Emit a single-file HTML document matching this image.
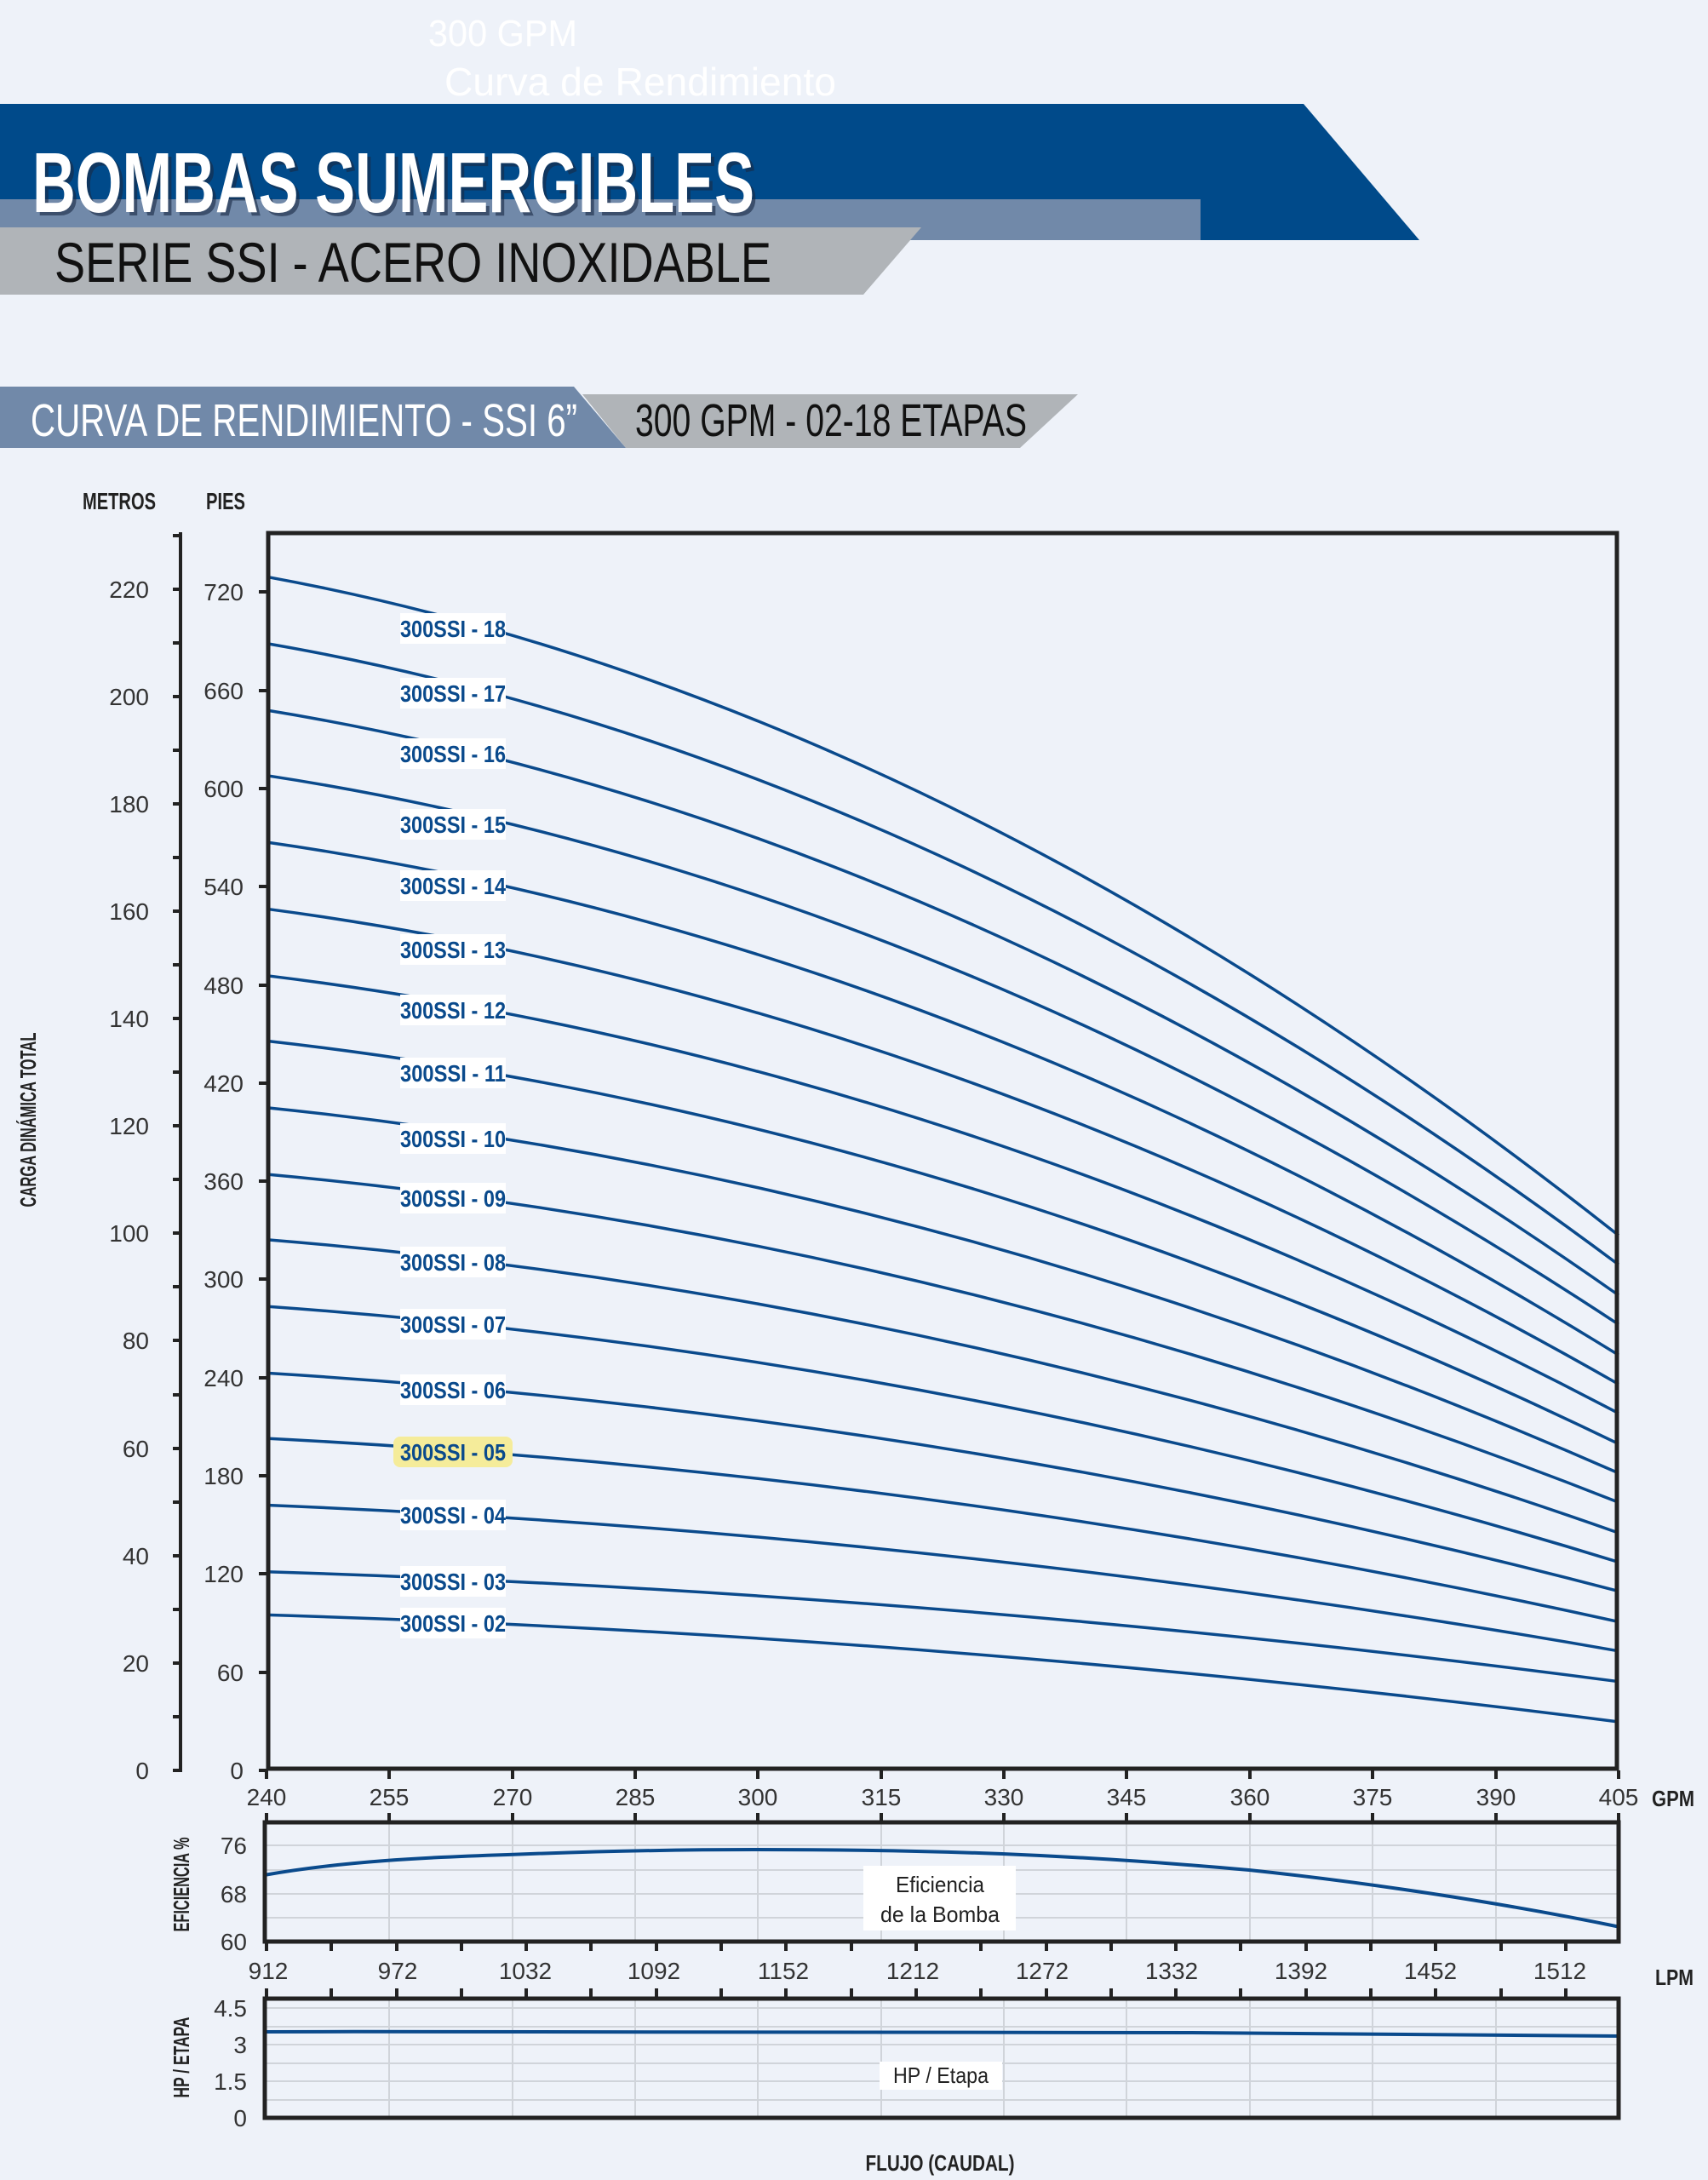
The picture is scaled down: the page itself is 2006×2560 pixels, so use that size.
<!DOCTYPE html>
<html><head><meta charset="utf-8"><style>
html,body{margin:0;padding:0;background:#eef2f9;}
svg{display:block;}
text{font-family:"Liberation Sans",sans-serif;}
</style></head><body>
<svg width="2006" height="2560" viewBox="0 0 2006 2560" xmlns="http://www.w3.org/2000/svg">
<rect width="2006" height="2560" fill="#eef2f9"/>
<!-- ghost title -->
<text x="503" y="54" font-size="44" fill="#ffffff" textLength="175" lengthAdjust="spacingAndGlyphs">300 GPM</text>
<text x="522" y="112" font-size="46" fill="#ffffff" textLength="460" lengthAdjust="spacingAndGlyphs">Curva de Rendimiento</text>
<!-- header banners -->
<polygon points="0,122 1531,122 1667,282 0,282" fill="#004a8a"/>
<rect x="0" y="234" width="1410" height="48" fill="#7189a9"/>
<polygon points="0,267 1082,267 1014,346 0,346" fill="#b0b4b8"/>
<text x="42" y="253" font-size="100" font-weight="bold" fill="#1a2a44" opacity="0.6" textLength="848" lengthAdjust="spacingAndGlyphs">BOMBAS SUMERGIBLES</text>
<text x="38" y="249" font-size="100" font-weight="bold" fill="#ffffff" textLength="848" lengthAdjust="spacingAndGlyphs">BOMBAS SUMERGIBLES</text>
<text x="64" y="331" font-size="66" fill="#111" textLength="842" lengthAdjust="spacingAndGlyphs">SERIE SSI - ACERO INOXIDABLE</text>
<!-- section bar -->
<polygon points="684,463 1266,463 1198,526 735,526" fill="#b0b4b8"/>
<polygon points="0,454 674,454 735,526 0,526" fill="#7189a9"/>
<text x="36" y="512" font-size="54" fill="#ffffff" textLength="642" lengthAdjust="spacingAndGlyphs">CURVA DE RENDIMIENTO - SSI 6”</text>
<text x="746" y="512" font-size="54" fill="#111" textLength="460" lengthAdjust="spacingAndGlyphs">300 GPM - 02-18 ETAPAS</text>
<!-- axis titles -->
<text x="97" y="598" font-size="28" font-weight="bold" fill="#222" textLength="86" lengthAdjust="spacingAndGlyphs">METROS</text>
<text x="242" y="598" font-size="28" font-weight="bold" fill="#222" textLength="46" lengthAdjust="spacingAndGlyphs">PIES</text>
<text transform="translate(42,1315) rotate(-90)" text-anchor="middle" font-size="26" font-weight="bold" fill="#222" textLength="205" lengthAdjust="spacingAndGlyphs">CARGA DINÁMICA TOTAL</text>
<!-- metros axis -->
<line x1="212" y1="625" x2="212" y2="2081" stroke="#222" stroke-width="4"/>
<g stroke="#222" stroke-width="4">
<line x1="203" y1="2079" x2="212" y2="2079"/><line x1="203" y1="2016" x2="212" y2="2016"/><line x1="203" y1="1953" x2="212" y2="1953"/><line x1="203" y1="1890" x2="212" y2="1890"/><line x1="203" y1="1827" x2="212" y2="1827"/><line x1="203" y1="1764" x2="212" y2="1764"/><line x1="203" y1="1701" x2="212" y2="1701"/><line x1="203" y1="1638" x2="212" y2="1638"/><line x1="203" y1="1574" x2="212" y2="1574"/><line x1="203" y1="1511" x2="212" y2="1511"/><line x1="203" y1="1448" x2="212" y2="1448"/><line x1="203" y1="1385" x2="212" y2="1385"/><line x1="203" y1="1322" x2="212" y2="1322"/><line x1="203" y1="1259" x2="212" y2="1259"/><line x1="203" y1="1196" x2="212" y2="1196"/><line x1="203" y1="1133" x2="212" y2="1133"/><line x1="203" y1="1070" x2="212" y2="1070"/><line x1="203" y1="1007" x2="212" y2="1007"/><line x1="203" y1="944" x2="212" y2="944"/><line x1="203" y1="881" x2="212" y2="881"/><line x1="203" y1="818" x2="212" y2="818"/><line x1="203" y1="755" x2="212" y2="755"/><line x1="203" y1="692" x2="212" y2="692"/><line x1="203" y1="629" x2="212" y2="629"/>
</g>
<g font-size="28" fill="#333" text-anchor="end">
<text x="175" y="2089">0</text><text x="175" y="1963">20</text><text x="175" y="1837">40</text><text x="175" y="1711">60</text><text x="175" y="1584">80</text><text x="175" y="1458">100</text><text x="175" y="1332">120</text><text x="175" y="1206">140</text><text x="175" y="1080">160</text><text x="175" y="954">180</text><text x="175" y="828">200</text><text x="175" y="702">220</text>
</g>
<!-- pies axis labels -->
<g stroke="#222" stroke-width="4">
<line x1="304" y1="2079" x2="313" y2="2079"/><line x1="304" y1="1964" x2="313" y2="1964"/><line x1="304" y1="1848" x2="313" y2="1848"/><line x1="304" y1="1733" x2="313" y2="1733"/><line x1="304" y1="1618" x2="313" y2="1618"/><line x1="304" y1="1502" x2="313" y2="1502"/><line x1="304" y1="1387" x2="313" y2="1387"/><line x1="304" y1="1272" x2="313" y2="1272"/><line x1="304" y1="1157" x2="313" y2="1157"/><line x1="304" y1="1041" x2="313" y2="1041"/><line x1="304" y1="926" x2="313" y2="926"/><line x1="304" y1="811" x2="313" y2="811"/><line x1="304" y1="695" x2="313" y2="695"/>
</g>
<g font-size="28" fill="#333" text-anchor="end">
<text x="286" y="2089">0</text><text x="286" y="1974">60</text><text x="286" y="1858">120</text><text x="286" y="1743">180</text><text x="286" y="1628">240</text><text x="286" y="1512">300</text><text x="286" y="1397">360</text><text x="286" y="1282">420</text><text x="286" y="1167">480</text><text x="286" y="1051">540</text><text x="286" y="936">600</text><text x="286" y="821">660</text><text x="286" y="705">720</text>
</g>
<!-- curves -->
<g fill="none" stroke="#0a4a8c" stroke-width="3.5">
<path d="M313,677.3 Q1107,822.7 1901,1450.8"/>
<path d="M313,755.6 Q1107,892.7 1901,1485.1"/>
<path d="M313,834 Q1107,963.2 1901,1521"/>
<path d="M313,910.7 Q1107,1031.9 1901,1555.3"/>
<path d="M313,989 Q1107,1102.2 1901,1591.2"/>
<path d="M313,1067.3 Q1107,1172.2 1901,1625.5"/>
<path d="M313,1145.7 Q1107,1242.3 1901,1659.7"/>
<path d="M313,1222.4 Q1107,1311.4 1901,1695.6"/>
<path d="M313,1300.7 Q1107,1381.4 1901,1729.9"/>
<path d="M313,1379 Q1107,1451.4 1901,1764.2"/>
<path d="M313,1455.7 Q1107,1520.4 1901,1800.1"/>
<path d="M313,1534.1 Q1107,1590.6 1901,1834.4"/>
<path d="M313,1612.4 Q1107,1660.6 1901,1868.6"/>
<path d="M313,1689.1 Q1107,1729.6 1901,1904.5"/>
<path d="M313,1767.5 Q1107,1799.7 1901,1938.8"/>
<path d="M313,1845.8 Q1107,1870 1901,1974.7"/>
<path d="M313,1896.4 Q1107,1920 1901,2022"/>
</g>
<!-- curve labels -->
<g fill="#ffffff">
<rect x="470" y="720" width="124" height="36"/><rect x="470" y="796" width="124" height="36"/><rect x="470" y="867" width="124" height="36"/><rect x="470" y="950" width="124" height="36"/><rect x="470" y="1022" width="124" height="36"/><rect x="470" y="1097" width="124" height="36"/><rect x="470" y="1168" width="124" height="36"/><rect x="470" y="1242" width="124" height="36"/><rect x="470" y="1319" width="124" height="36"/><rect x="470" y="1389" width="124" height="36"/><rect x="470" y="1464" width="124" height="36"/><rect x="470" y="1537" width="124" height="36"/><rect x="470" y="1614" width="124" height="36"/><rect x="462" y="1687" width="140" height="36" rx="8" fill="#f5ec9a"/><rect x="470" y="1761" width="124" height="36"/><rect x="470" y="1839" width="124" height="36"/><rect x="470" y="1888" width="124" height="36"/>
</g>
<g font-size="28" font-weight="bold" fill="#0a4a8c" text-anchor="middle">
<text x="532" y="748" textLength="124" lengthAdjust="spacingAndGlyphs">300SSI - 18</text>
<text x="532" y="824" textLength="124" lengthAdjust="spacingAndGlyphs">300SSI - 17</text>
<text x="532" y="895" textLength="124" lengthAdjust="spacingAndGlyphs">300SSI - 16</text>
<text x="532" y="978" textLength="124" lengthAdjust="spacingAndGlyphs">300SSI - 15</text>
<text x="532" y="1050" textLength="124" lengthAdjust="spacingAndGlyphs">300SSI - 14</text>
<text x="532" y="1125" textLength="124" lengthAdjust="spacingAndGlyphs">300SSI - 13</text>
<text x="532" y="1196" textLength="124" lengthAdjust="spacingAndGlyphs">300SSI - 12</text>
<text x="532" y="1270" textLength="124" lengthAdjust="spacingAndGlyphs">300SSI - 11</text>
<text x="532" y="1347" textLength="124" lengthAdjust="spacingAndGlyphs">300SSI - 10</text>
<text x="532" y="1417" textLength="124" lengthAdjust="spacingAndGlyphs">300SSI - 09</text>
<text x="532" y="1492" textLength="124" lengthAdjust="spacingAndGlyphs">300SSI - 08</text>
<text x="532" y="1565" textLength="124" lengthAdjust="spacingAndGlyphs">300SSI - 07</text>
<text x="532" y="1642" textLength="124" lengthAdjust="spacingAndGlyphs">300SSI - 06</text>
<text x="532" y="1715" textLength="124" lengthAdjust="spacingAndGlyphs">300SSI - 05</text>
<text x="532" y="1789" textLength="124" lengthAdjust="spacingAndGlyphs">300SSI - 04</text>
<text x="532" y="1867" textLength="124" lengthAdjust="spacingAndGlyphs">300SSI - 03</text>
<text x="532" y="1916" textLength="124" lengthAdjust="spacingAndGlyphs">300SSI - 02</text>
</g>
<!-- main plot frame -->
<rect x="315" y="626" width="1584" height="1451" fill="none" stroke="#222" stroke-width="5"/>
<!-- GPM ticks -->
<g stroke="#222" stroke-width="4">
<line x1="313" y1="2079" x2="313" y2="2089"/><line x1="457" y1="2079" x2="457" y2="2089"/><line x1="602" y1="2079" x2="602" y2="2089"/><line x1="746" y1="2079" x2="746" y2="2089"/><line x1="890" y1="2079" x2="890" y2="2089"/><line x1="1035" y1="2079" x2="1035" y2="2089"/><line x1="1179" y1="2079" x2="1179" y2="2089"/><line x1="1323" y1="2079" x2="1323" y2="2089"/><line x1="1468" y1="2079" x2="1468" y2="2089"/><line x1="1612" y1="2079" x2="1612" y2="2089"/><line x1="1757" y1="2079" x2="1757" y2="2089"/><line x1="1901" y1="2079" x2="1901" y2="2089"/>
<line x1="313" y1="2129" x2="313" y2="2139"/><line x1="457" y1="2129" x2="457" y2="2139"/><line x1="602" y1="2129" x2="602" y2="2139"/><line x1="746" y1="2129" x2="746" y2="2139"/><line x1="890" y1="2129" x2="890" y2="2139"/><line x1="1035" y1="2129" x2="1035" y2="2139"/><line x1="1179" y1="2129" x2="1179" y2="2139"/><line x1="1323" y1="2129" x2="1323" y2="2139"/><line x1="1468" y1="2129" x2="1468" y2="2139"/><line x1="1612" y1="2129" x2="1612" y2="2139"/><line x1="1757" y1="2129" x2="1757" y2="2139"/><line x1="1901" y1="2129" x2="1901" y2="2139"/>
</g>
<g font-size="28" fill="#333" text-anchor="middle">
<text x="313" y="2120">240</text><text x="457" y="2120">255</text><text x="602" y="2120">270</text><text x="746" y="2120">285</text><text x="890" y="2120">300</text><text x="1035" y="2120">315</text><text x="1179" y="2120">330</text><text x="1323" y="2120">345</text><text x="1468" y="2120">360</text><text x="1612" y="2120">375</text><text x="1757" y="2120">390</text><text x="1901" y="2120">405</text>
</g>
<text x="1940" y="2121" font-size="26" font-weight="bold" fill="#222" textLength="50" lengthAdjust="spacingAndGlyphs">GPM</text>
<!-- efficiency plot -->
<g stroke="#d0d4da" stroke-width="2">
<line x1="310" y1="2167" x2="1903" y2="2167"/><line x1="310" y1="2196" x2="1903" y2="2196"/><line x1="310" y1="2224" x2="1903" y2="2224"/><line x1="310" y1="2252" x2="1903" y2="2252"/>
<line x1="457" y1="2139" x2="457" y2="2281"/><line x1="602" y1="2139" x2="602" y2="2281"/><line x1="746" y1="2139" x2="746" y2="2281"/><line x1="890" y1="2139" x2="890" y2="2281"/><line x1="1035" y1="2139" x2="1035" y2="2281"/><line x1="1179" y1="2139" x2="1179" y2="2281"/><line x1="1323" y1="2139" x2="1323" y2="2281"/><line x1="1468" y1="2139" x2="1468" y2="2281"/><line x1="1612" y1="2139" x2="1612" y2="2281"/><line x1="1757" y1="2139" x2="1757" y2="2281"/>
</g>
<path d="M310,2202 C400,2186 500,2181 596,2178 C700,2174 800,2172 885,2172 C1000,2172 1100,2174 1177,2177 C1300,2182 1400,2190 1467,2196 C1600,2210 1757,2233 1903,2263" fill="none" stroke="#0a4a8c" stroke-width="4"/>
<rect x="1014" y="2191" width="179" height="76" fill="#ffffff"/>
<text x="1104" y="2222" font-size="26" fill="#222" text-anchor="middle" textLength="104" lengthAdjust="spacingAndGlyphs">Eficiencia</text>
<text x="1104" y="2257" font-size="26" fill="#222" text-anchor="middle" textLength="140" lengthAdjust="spacingAndGlyphs">de la Bomba</text>
<rect x="311" y="2140" width="1590" height="140" fill="none" stroke="#222" stroke-width="5"/>
<g font-size="28" fill="#333" text-anchor="end">
<text x="290" y="2177">76</text><text x="290" y="2234">68</text><text x="290" y="2290">60</text>
</g>
<text transform="translate(222,2213) rotate(-90)" text-anchor="middle" font-size="26" font-weight="bold" fill="#222" textLength="111" lengthAdjust="spacingAndGlyphs">EFICIENCIA %</text>
<!-- LPM ticks -->
<g stroke="#222" stroke-width="4">
<line x1="313" y1="2281" x2="313" y2="2291"/><line x1="389" y1="2281" x2="389" y2="2291"/><line x1="466" y1="2281" x2="466" y2="2291"/><line x1="542" y1="2281" x2="542" y2="2291"/><line x1="618" y1="2281" x2="618" y2="2291"/><line x1="694" y1="2281" x2="694" y2="2291"/><line x1="771" y1="2281" x2="771" y2="2291"/><line x1="847" y1="2281" x2="847" y2="2291"/><line x1="923" y1="2281" x2="923" y2="2291"/><line x1="1000" y1="2281" x2="1000" y2="2291"/><line x1="1076" y1="2281" x2="1076" y2="2291"/><line x1="1152" y1="2281" x2="1152" y2="2291"/><line x1="1229" y1="2281" x2="1229" y2="2291"/><line x1="1305" y1="2281" x2="1305" y2="2291"/><line x1="1381" y1="2281" x2="1381" y2="2291"/><line x1="1457" y1="2281" x2="1457" y2="2291"/><line x1="1534" y1="2281" x2="1534" y2="2291"/><line x1="1610" y1="2281" x2="1610" y2="2291"/><line x1="1686" y1="2281" x2="1686" y2="2291"/><line x1="1763" y1="2281" x2="1763" y2="2291"/><line x1="1839" y1="2281" x2="1839" y2="2291"/>
<line x1="313" y1="2335" x2="313" y2="2345"/><line x1="389" y1="2335" x2="389" y2="2345"/><line x1="466" y1="2335" x2="466" y2="2345"/><line x1="542" y1="2335" x2="542" y2="2345"/><line x1="618" y1="2335" x2="618" y2="2345"/><line x1="694" y1="2335" x2="694" y2="2345"/><line x1="771" y1="2335" x2="771" y2="2345"/><line x1="847" y1="2335" x2="847" y2="2345"/><line x1="923" y1="2335" x2="923" y2="2345"/><line x1="1000" y1="2335" x2="1000" y2="2345"/><line x1="1076" y1="2335" x2="1076" y2="2345"/><line x1="1152" y1="2335" x2="1152" y2="2345"/><line x1="1229" y1="2335" x2="1229" y2="2345"/><line x1="1305" y1="2335" x2="1305" y2="2345"/><line x1="1381" y1="2335" x2="1381" y2="2345"/><line x1="1457" y1="2335" x2="1457" y2="2345"/><line x1="1534" y1="2335" x2="1534" y2="2345"/><line x1="1610" y1="2335" x2="1610" y2="2345"/><line x1="1686" y1="2335" x2="1686" y2="2345"/><line x1="1763" y1="2335" x2="1763" y2="2345"/><line x1="1839" y1="2335" x2="1839" y2="2345"/>
</g>
<g font-size="28" fill="#333" text-anchor="middle">
<text x="315" y="2324">912</text><text x="467" y="2324">972</text><text x="617" y="2324">1032</text><text x="768" y="2324">1092</text><text x="920" y="2324">1152</text><text x="1072" y="2324">1212</text><text x="1224" y="2324">1272</text><text x="1376" y="2324">1332</text><text x="1528" y="2324">1392</text><text x="1680" y="2324">1452</text><text x="1832" y="2324">1512</text>
</g>
<text x="1944" y="2331" font-size="26" font-weight="bold" fill="#222" textLength="45" lengthAdjust="spacingAndGlyphs">LPM</text>
<!-- HP plot -->
<g stroke="#d0d4da" stroke-width="2">
<line x1="310" y1="2358" x2="1903" y2="2358"/><line x1="310" y1="2380" x2="1903" y2="2380"/><line x1="310" y1="2401" x2="1903" y2="2401"/><line x1="310" y1="2423" x2="1903" y2="2423"/><line x1="310" y1="2444" x2="1903" y2="2444"/><line x1="310" y1="2466" x2="1903" y2="2466"/>
<line x1="457" y1="2346" x2="457" y2="2488"/><line x1="602" y1="2346" x2="602" y2="2488"/><line x1="746" y1="2346" x2="746" y2="2488"/><line x1="890" y1="2346" x2="890" y2="2488"/><line x1="1035" y1="2346" x2="1035" y2="2488"/><line x1="1179" y1="2346" x2="1179" y2="2488"/><line x1="1323" y1="2346" x2="1323" y2="2488"/><line x1="1468" y1="2346" x2="1468" y2="2488"/><line x1="1612" y1="2346" x2="1612" y2="2488"/><line x1="1757" y1="2346" x2="1757" y2="2488"/>
</g>
<path d="M310,2386 C700,2385 1100,2385 1400,2387 C1600,2389 1800,2390 1903,2391" fill="none" stroke="#0a4a8c" stroke-width="4"/>
<rect x="1033" y="2421" width="144" height="33" fill="#ffffff"/>
<text x="1105" y="2446" font-size="26" fill="#222" text-anchor="middle" textLength="112" lengthAdjust="spacingAndGlyphs">HP / Etapa</text>
<rect x="311" y="2347" width="1590" height="140" fill="none" stroke="#222" stroke-width="5"/>
<g font-size="28" fill="#333" text-anchor="end">
<text x="290" y="2368">4.5</text><text x="290" y="2411">3</text><text x="290" y="2454">1.5</text><text x="290" y="2497">0</text>
</g>
<text transform="translate(222,2416) rotate(-90)" text-anchor="middle" font-size="26" font-weight="bold" fill="#222" textLength="95" lengthAdjust="spacingAndGlyphs">HP / ETAPA</text>
<text x="1104" y="2549" font-size="26" font-weight="bold" fill="#222" text-anchor="middle" textLength="175" lengthAdjust="spacingAndGlyphs">FLUJO (CAUDAL)</text>
</svg>
</body></html>
